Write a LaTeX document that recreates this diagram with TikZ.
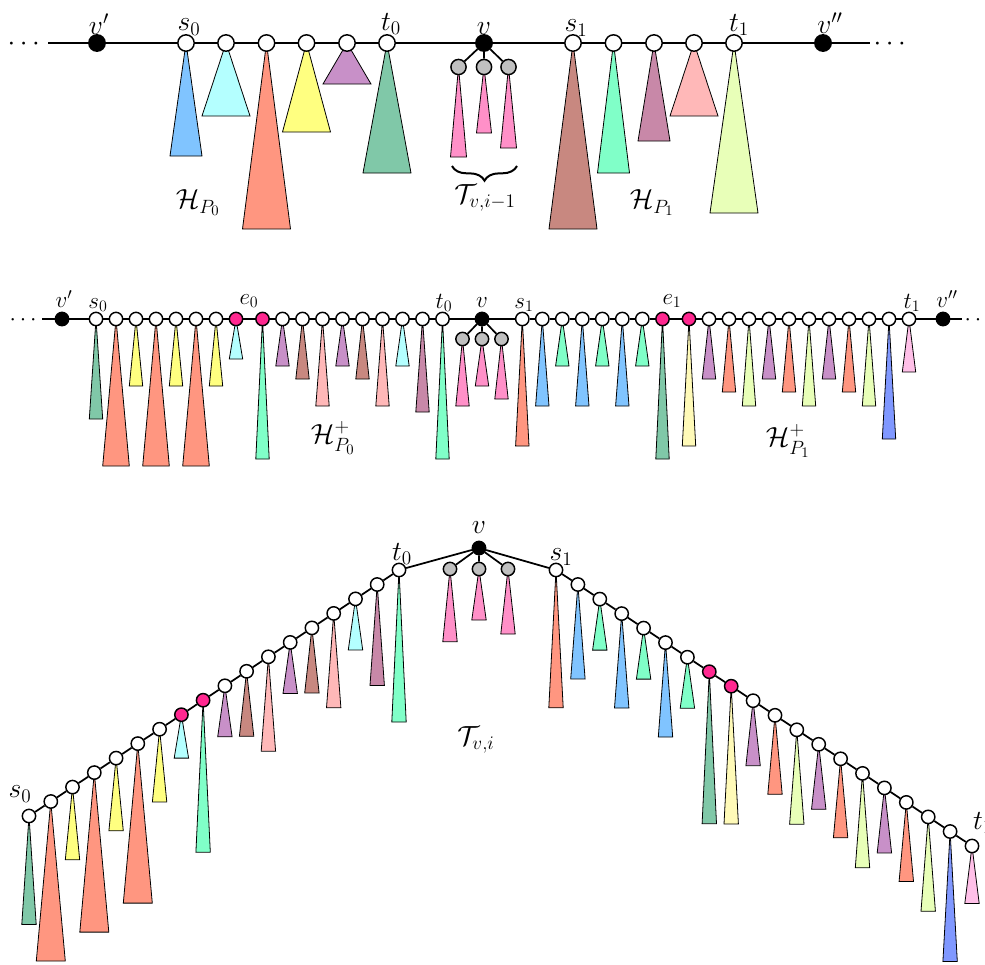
\documentclass[tikz,border=0pt]{standalone}
\usepackage{amsmath}
\usepackage{amssymb}
\usetikzlibrary{backgrounds, decorations.pathreplacing}

\tikzset{
  wnode/.style={circle, draw, fill=white, line width=1.1pt, inner sep=0pt, minimum size=12.3pt},
  wsmall/.style={wnode, minimum size=10pt},
  bnode/.style={wnode, fill=black},
  bsmall/.style={wsmall, fill=black},
  gnode/.style={wnode, minimum size=11.4pt, fill={rgb, 255:red, 192; green, 192; blue, 192}},
  gsmall/.style={wsmall, fill={rgb, 255:red, 192; green, 192; blue, 192}},
  mnode/.style={wsmall, fill={rgb, 255:red, 255; green, 40; blue, 144}},
  edge/.style={line width=1.3pt},
  tri/.style={draw, line width=0.6pt},
  brc/.style={decorate, decoration={brace, mirror, amplitude=11pt}, line width=1.5pt},
  lbl/.style={font=\fontsize{21}{25}\selectfont, inner sep=0pt},
  slbl/.style={font=\fontsize{17}{20}\selectfont, inner sep=0pt},
  hlbl/.style={font=\fontsize{22}{26}\selectfont, inner sep=0pt},
  cblue/.style={fill={rgb, 255:red, 128; green, 196; blue, 255}},
  ccyan/.style={fill={rgb, 255:red, 180; green, 255; blue, 255}},
  csalmon/.style={fill={rgb, 255:red, 255; green, 150; blue, 128}},
  cyellow/.style={fill={rgb, 255:red, 255; green, 255; blue, 128}},
  cpurple/.style={fill={rgb, 255:red, 200; green, 144; blue, 200}},
  cteal/.style={fill={rgb, 255:red, 128; green, 200; blue, 168}},
  cpink/.style={fill={rgb, 255:red, 255; green, 144; blue, 200}},
  cbrown/.style={fill={rgb, 255:red, 200; green, 136; blue, 128}},
  cmint/.style={fill={rgb, 255:red, 128; green, 255; blue, 200}},
  cmauve/.style={fill={rgb, 255:red, 200; green, 136; blue, 168}},
  clpink/.style={fill={rgb, 255:red, 255; green, 184; blue, 184}},
  clime/.style={fill={rgb, 255:red, 232; green, 255; blue, 184}},
  clyellow/.style={fill={rgb, 255:red, 255; green, 250; blue, 184}},
  cviolet/.style={fill={rgb, 255:red, 128; green, 152; blue, 255}},
  clpink2/.style={fill={rgb, 255:red, 255; green, 192; blue, 232}},
}

\begin{document}
\begin{tikzpicture}[x=0.75pt,y=0.75pt,yscale=-1,xscale=1]
    \useasboundingbox (0,0) rectangle (985,964);

    %%%%%%%% Row 1: H_{P_0}, T_{v,i-1}, H_{P_1}
    %Shape: Circle
    \node[bnode] (tvp) at (97,43) {};
    \node[wnode] (ta1) at (186,43) {};
    \node[wnode] (ta2) at (226,43) {};
    \node[wnode] (ta3) at (266.5,43) {};
    \node[wnode] (ta4) at (306.5,43) {};
    \node[wnode] (ta5) at (347,43) {};
    \node[wnode] (ta6) at (387,43) {};
    \node[bnode] (tv) at (484,43) {};
    \node[gnode] (tc1) at (458.5,67) {};
    \node[gnode] (tc2) at (484,67) {};
    \node[gnode] (tc3) at (508.5,67) {};
    \node[wnode] (tb1) at (573,43) {};
    \node[wnode] (tb2) at (613.5,43) {};
    \node[wnode] (tb3) at (654,43) {};
    \node[wnode] (tb4) at (694,43) {};
    \node[wnode] (tb5) at (734,43) {};
    \node[bnode] (tvpp) at (823,43) {};
    \coordinate (tle) at (48,43);
    \coordinate (tre) at (870,43);

    \begin{pgfonlayer}{background}
    %Straight Lines
    \draw[edge] (tle) -- (tvp) -- (ta1) -- (ta2) -- (ta3) -- (ta4) -- (ta5) -- (ta6) -- (tv)
        -- (tb1) -- (tb2) -- (tb3) -- (tb4) -- (tb5) -- (tvpp) -- (tre);
    \draw[edge] (tv) -- (tc1) (tv) -- (tc2) (tv) -- (tc3);
    %Shape: Triangle
    \draw[tri, cblue] (ta1.center) -- ++(-16,113) -- ++(32,0) -- cycle;
    \draw[tri, ccyan] (ta2.center) -- ++(-24,73) -- ++(48,0) -- cycle;
    \draw[tri, csalmon] (ta3.center) -- ++(-24,186) -- ++(48,0) -- cycle;
    \draw[tri, cyellow] (ta4.center) -- ++(-24,89) -- ++(48,0) -- cycle;
    \draw[tri, cpurple] (ta5.center) -- ++(-24,41) -- ++(48,0) -- cycle;
    \draw[tri, cteal] (ta6.center) -- ++(-24,130) -- ++(48,0) -- cycle;
    \draw[tri, cpink] (tc1.center) -- ++(-8,90) -- ++(16,0) -- cycle;
    \draw[tri, cpink] (tc2.center) -- ++(-7.5,66) -- ++(15,0) -- cycle;
    \draw[tri, cpink] (tc3.center) -- ++(-8,81) -- ++(16,0) -- cycle;
    \draw[tri, cbrown] (tb1.center) -- ++(-24,186) -- ++(48,0) -- cycle;
    \draw[tri, cmint] (tb2.center) -- ++(-16,130) -- ++(32,0) -- cycle;
    \draw[tri, cmauve] (tb3.center) -- ++(-16,98) -- ++(32,0) -- cycle;
    \draw[tri, clpink] (tb4.center) -- ++(-24,73) -- ++(48,0) -- cycle;
    \draw[tri, clime] (tb5.center) -- ++(-24,170) -- ++(48,0) -- cycle;
    \end{pgfonlayer}

    %Curly Brace
    \draw[brc] (452,166) -- (517,166);

    % Text Node
    \node[lbl, anchor=base] (tdl) at (26,50) {$\cdots$};
    \node[lbl, anchor=base] (tdr) at (892,50) {$\cdots$};
    \node[lbl] (ltvp) at (99,24) {$v'$};
    \node[lbl] (lts0) at (189,27) {$s_0$};
    \node[lbl] (ltt0) at (391,24) {$t_0$};
    \node[lbl] (ltv) at (484,29) {$v$};
    \node[lbl] (lts1) at (576,28) {$s_1$};
    \node[lbl] (ltt1) at (739,25) {$t_1$};
    \node[lbl] (ltvpp) at (830,23) {$v''$};
    \node[hlbl] (lth0) at (198,203) {$\mathcal{H}_{P_0}$};
    \node[hlbl] (ltT) at (485,198) {$\mathcal{T}_{v,i-1}$};
    \node[hlbl] (lth1) at (652,203) {$\mathcal{H}_{P_1}$};

    %%%%%%%% Row 2: H^+_{P_0}, H^+_{P_1}
    %Shape: Circle
    \node[bsmall] (mvp) at (62,319) {};
    \node[wsmall] (ma1) at (96,319) {};
    \node[wsmall] (ma2) at (116,319) {};
    \node[wsmall] (ma3) at (136,319) {};
    \node[wsmall] (ma4) at (156,319) {};
    \node[wsmall] (ma5) at (176,319) {};
    \node[wsmall] (ma6) at (196,319) {};
    \node[wsmall] (ma7) at (216,319) {};
    \node[mnode] (ma8) at (236,319) {};
    \node[mnode] (ma9) at (262.5,319) {};
    \node[wsmall] (ma10) at (282.5,319) {};
    \node[wsmall] (ma11) at (302.5,319) {};
    \node[wsmall] (ma12) at (322.5,319) {};
    \node[wsmall] (ma13) at (342.5,319) {};
    \node[wsmall] (ma14) at (362.5,319) {};
    \node[wsmall] (ma15) at (382.5,319) {};
    \node[wsmall] (ma16) at (402.5,319) {};
    \node[wsmall] (ma17) at (422.5,319) {};
    \node[wsmall] (ma18) at (442.5,319) {};
    \node[bsmall] (mv) at (482,319) {};
    \node[gsmall] (mc1) at (462.5,339) {};
    \node[gsmall] (mc2) at (482,339) {};
    \node[gsmall] (mc3) at (501.5,339) {};
    \node[wsmall] (mb1) at (522.3,319) {};
    \node[wsmall] (mb2) at (542.3,319) {};
    \node[wsmall] (mb3) at (562.3,319) {};
    \node[wsmall] (mb4) at (582.3,319) {};
    \node[wsmall] (mb5) at (602.3,319) {};
    \node[wsmall] (mb6) at (622.3,319) {};
    \node[wsmall] (mb7) at (642.3,319) {};
    \node[mnode] (mb8) at (662.5,319) {};
    \node[mnode] (mb9) at (689,319) {};
    \node[wsmall] (mb10) at (709,319) {};
    \node[wsmall] (mb11) at (729,319) {};
    \node[wsmall] (mb12) at (749,319) {};
    \node[wsmall] (mb13) at (769,319) {};
    \node[wsmall] (mb14) at (789,319) {};
    \node[wsmall] (mb15) at (809,319) {};
    \node[wsmall] (mb16) at (829,319) {};
    \node[wsmall] (mb17) at (849,319) {};
    \node[wsmall] (mb18) at (869,319) {};
    \node[wsmall] (mb19) at (889,319) {};
    \node[wsmall] (mb20) at (909,319) {};
    \node[bsmall] (mvpp) at (943,319) {};
    \coordinate (mle) at (42,319);
    \coordinate (mre) at (962,319);

    \begin{pgfonlayer}{background}
    %Straight Lines
    \draw[edge] (mle) -- (mvp) -- (ma1) -- (ma2) -- (ma3) -- (ma4) -- (ma5) -- (ma6) -- (ma7) -- (ma8)
        -- (ma9) -- (ma10) -- (ma11) -- (ma12) -- (ma13) -- (ma14) -- (ma15) -- (ma16) -- (ma17)
        -- (ma18) -- (mv) -- (mb1) -- (mb2) -- (mb3) -- (mb4) -- (mb5) -- (mb6) -- (mb7) -- (mb8)
        -- (mb9) -- (mb10) -- (mb11) -- (mb12) -- (mb13) -- (mb14) -- (mb15) -- (mb16) -- (mb17)
        -- (mb18) -- (mb19) -- (mb20) -- (mvpp) -- (mre);
    \draw[edge] (mv) -- (mc1) (mv) -- (mc2) (mv) -- (mc3);
    %Shape: Triangle
    \draw[tri, cteal] (ma1.center) -- ++(-6.7,100) -- ++(13.4,0) -- cycle;
    \draw[tri, csalmon] (ma2.center) -- ++(-13.3,147) -- ++(26.6,0) -- cycle;
    \draw[tri, cyellow] (ma3.center) -- ++(-6.7,67) -- ++(13.4,0) -- cycle;
    \draw[tri, csalmon] (ma4.center) -- ++(-13.3,147) -- ++(26.6,0) -- cycle;
    \draw[tri, cyellow] (ma5.center) -- ++(-6.7,67) -- ++(13.4,0) -- cycle;
    \draw[tri, csalmon] (ma6.center) -- ++(-13.3,147) -- ++(26.6,0) -- cycle;
    \draw[tri, cyellow] (ma7.center) -- ++(-6.7,67) -- ++(13.4,0) -- cycle;
    \draw[tri, ccyan] (ma8.center) -- ++(-6.7,40) -- ++(13.4,0) -- cycle;
    \draw[tri, cmint] (ma9.center) -- ++(-6.7,140) -- ++(13.4,0) -- cycle;
    \draw[tri, cpurple] (ma10.center) -- ++(-6.7,47) -- ++(13.4,0) -- cycle;
    \draw[tri, cbrown] (ma11.center) -- ++(-6.7,60) -- ++(13.4,0) -- cycle;
    \draw[tri, clpink] (ma12.center) -- ++(-6.7,87) -- ++(13.4,0) -- cycle;
    \draw[tri, cpurple] (ma13.center) -- ++(-6.7,47) -- ++(13.4,0) -- cycle;
    \draw[tri, cbrown] (ma14.center) -- ++(-6.7,60) -- ++(13.4,0) -- cycle;
    \draw[tri, clpink] (ma15.center) -- ++(-6.7,87) -- ++(13.4,0) -- cycle;
    \draw[tri, ccyan] (ma16.center) -- ++(-6.7,47) -- ++(13.4,0) -- cycle;
    \draw[tri, cmauve] (ma17.center) -- ++(-6.7,93) -- ++(13.4,0) -- cycle;
    \draw[tri, cmint] (ma18.center) -- ++(-6.7,140) -- ++(13.4,0) -- cycle;
    \draw[tri, cpink] (mc1.center) -- ++(-6.7,67) -- ++(13.4,0) -- cycle;
    \draw[tri, cpink] (mc2.center) -- ++(-6.7,47) -- ++(13.4,0) -- cycle;
    \draw[tri, cpink] (mc3.center) -- ++(-6.7,60) -- ++(13.4,0) -- cycle;
    \draw[tri, csalmon] (mb1.center) -- ++(-6.7,127) -- ++(13.4,0) -- cycle;
    \draw[tri, cblue] (mb2.center) -- ++(-6.7,87) -- ++(13.4,0) -- cycle;
    \draw[tri, cmint] (mb3.center) -- ++(-6.7,47) -- ++(13.4,0) -- cycle;
    \draw[tri, cblue] (mb4.center) -- ++(-6.7,87) -- ++(13.4,0) -- cycle;
    \draw[tri, cmint] (mb5.center) -- ++(-6.7,47) -- ++(13.4,0) -- cycle;
    \draw[tri, cblue] (mb6.center) -- ++(-6.7,87) -- ++(13.4,0) -- cycle;
    \draw[tri, cmint] (mb7.center) -- ++(-6.7,47) -- ++(13.4,0) -- cycle;
    \draw[tri, cteal] (mb8.center) -- ++(-6.7,140) -- ++(13.4,0) -- cycle;
    \draw[tri, clyellow] (mb9.center) -- ++(-6.7,127) -- ++(13.4,0) -- cycle;
    \draw[tri, cpurple] (mb10.center) -- ++(-6.7,60) -- ++(13.4,0) -- cycle;
    \draw[tri, csalmon] (mb11.center) -- ++(-6.7,73) -- ++(13.4,0) -- cycle;
    \draw[tri, clime] (mb12.center) -- ++(-6.7,87) -- ++(13.4,0) -- cycle;
    \draw[tri, cpurple] (mb13.center) -- ++(-6.7,60) -- ++(13.4,0) -- cycle;
    \draw[tri, csalmon] (mb14.center) -- ++(-6.7,73) -- ++(13.4,0) -- cycle;
    \draw[tri, clime] (mb15.center) -- ++(-6.7,87) -- ++(13.4,0) -- cycle;
    \draw[tri, cpurple] (mb16.center) -- ++(-6.7,60) -- ++(13.4,0) -- cycle;
    \draw[tri, csalmon] (mb17.center) -- ++(-6.7,73) -- ++(13.4,0) -- cycle;
    \draw[tri, clime] (mb18.center) -- ++(-6.7,87) -- ++(13.4,0) -- cycle;
    \draw[tri, cviolet] (mb19.center) -- ++(-6.7,120) -- ++(13.4,0) -- cycle;
    \draw[tri, clpink2] (mb20.center) -- ++(-6.7,53) -- ++(13.4,0) -- cycle;
    \end{pgfonlayer}

    % Text Node
    \node[slbl, anchor=base] (mdl) at (25,325) {$\cdots$};
    \node[slbl, anchor=base] (mdr) at (980,325) {$\cdots$};
    \node[slbl] (lmvp) at (64,299) {$v'$};
    \node[slbl] (lms0) at (98,305) {$s_0$};
    \node[slbl] (lme0) at (249,301) {$e_0$};
    \node[slbl] (lmt0) at (444,303) {$t_0$};
    \node[slbl] (lmv) at (482,303) {$v$};
    \node[slbl] (lms1) at (524,305) {$s_1$};
    \node[slbl] (lme1) at (672,301) {$e_1$};
    \node[slbl] (lmt1) at (912,303) {$t_1$};
    \node[slbl] (lmvpp) at (947,299) {$v''$};
    \node[hlbl] (lmh0) at (333,438) {$\mathcal{H}^+_{P_0}$};
    \node[hlbl] (lmh1) at (788,441) {$\mathcal{H}^+_{P_1}$};

    %%%%%%%% Row 3: T_{v,i}
    %Shape: Circle
    \node[wsmall] (ba1) at (29,816) {};
    \node[wsmall] (ba2) at (50.8,801.5) {};
    \node[wsmall] (ba3) at (72.5,787.1) {};
    \node[wsmall] (ba4) at (94.3,772.6) {};
    \node[wsmall] (ba5) at (116.1,758.1) {};
    \node[wsmall] (ba6) at (137.8,743.6) {};
    \node[wsmall] (ba7) at (159.6,729.2) {};
    \node[mnode] (ba8) at (181.4,714.7) {};
    \node[mnode] (ba9) at (203.1,700.2) {};
    \node[wsmall] (ba10) at (224.9,685.8) {};
    \node[wsmall] (ba11) at (246.6,671.3) {};
    \node[wsmall] (ba12) at (268.4,656.8) {};
    \node[wsmall] (ba13) at (290.2,642.4) {};
    \node[wsmall] (ba14) at (311.9,627.9) {};
    \node[wsmall] (ba15) at (333.7,613.4) {};
    \node[wsmall] (ba16) at (355.5,598.9) {};
    \node[wsmall] (ba17) at (377.2,584.5) {};
    \node[wsmall] (ba18) at (399,570) {};
    \node[bsmall] (bv) at (479,548) {};
    \node[gsmall] (bc1) at (450,569) {};
    \node[gsmall] (bc2) at (479,569) {};
    \node[gsmall] (bc3) at (508,569) {};
    \node[wsmall] (bb1) at (556,570) {};
    \node[wsmall] (bb2) at (577.9,584.5) {};
    \node[wsmall] (bb3) at (599.8,599.1) {};
    \node[wsmall] (bb4) at (621.7,613.6) {};
    \node[wsmall] (bb5) at (643.6,628.1) {};
    \node[wsmall] (bb6) at (665.5,642.6) {};
    \node[wsmall] (bb7) at (687.4,657.2) {};
    \node[mnode] (bb8) at (709.3,671.7) {};
    \node[mnode] (bb9) at (731.2,686.2) {};
    \node[wsmall] (bb10) at (753.1,700.7) {};
    \node[wsmall] (bb11) at (775,715.3) {};
    \node[wsmall] (bb12) at (796.8,729.8) {};
    \node[wsmall] (bb13) at (818.7,744.3) {};
    \node[wsmall] (bb14) at (840.6,758.8) {};
    \node[wsmall] (bb15) at (862.5,773.4) {};
    \node[wsmall] (bb16) at (884.4,787.9) {};
    \node[wsmall] (bb17) at (906.3,802.4) {};
    \node[wsmall] (bb18) at (928.2,816.9) {};
    \node[wsmall] (bb19) at (950.1,831.5) {};
    \node[wsmall] (bb20) at (972,846) {};

    \begin{pgfonlayer}{background}
    %Straight Lines
    \draw[edge] (ba1) -- (ba2) -- (ba3) -- (ba4) -- (ba5) -- (ba6) -- (ba7) -- (ba8) -- (ba9)
        -- (ba10) -- (ba11) -- (ba12) -- (ba13) -- (ba14) -- (ba15) -- (ba16) -- (ba17) -- (ba18)
        -- (bv) -- (bb1) -- (bb2) -- (bb3) -- (bb4) -- (bb5) -- (bb6) -- (bb7) -- (bb8) -- (bb9)
        -- (bb10) -- (bb11) -- (bb12) -- (bb13) -- (bb14) -- (bb15) -- (bb16) -- (bb17) -- (bb18)
        -- (bb19) -- (bb20);
    \draw[edge] (bv) -- (bc1) (bv) -- (bc2) (bv) -- (bc3);
    %Shape: Triangle
    \draw[tri, cteal] (ba1.center) -- ++(-7.2,108.5) -- ++(14.4,0) -- cycle;
    \draw[tri, csalmon] (ba2.center) -- ++(-14.5,159.5) -- ++(29,0) -- cycle;
    \draw[tri, cyellow] (ba3.center) -- ++(-7.2,72.7) -- ++(14.4,0) -- cycle;
    \draw[tri, csalmon] (ba4.center) -- ++(-14.5,159.5) -- ++(29,0) -- cycle;
    \draw[tri, cyellow] (ba5.center) -- ++(-7.2,72.7) -- ++(14.4,0) -- cycle;
    \draw[tri, csalmon] (ba6.center) -- ++(-14.5,159.5) -- ++(29,0) -- cycle;
    \draw[tri, cyellow] (ba7.center) -- ++(-7.2,72.7) -- ++(14.4,0) -- cycle;
    \draw[tri, ccyan] (ba8.center) -- ++(-7.2,43.4) -- ++(14.4,0) -- cycle;
    \draw[tri, cmint] (ba9.center) -- ++(-7.2,152) -- ++(14.4,0) -- cycle;
    \draw[tri, cpurple] (ba10.center) -- ++(-7.2,51) -- ++(14.4,0) -- cycle;
    \draw[tri, cbrown] (ba11.center) -- ++(-7.2,65) -- ++(14.4,0) -- cycle;
    \draw[tri, clpink] (ba12.center) -- ++(-7.2,94.4) -- ++(14.4,0) -- cycle;
    \draw[tri, cpurple] (ba13.center) -- ++(-7.2,51) -- ++(14.4,0) -- cycle;
    \draw[tri, cbrown] (ba14.center) -- ++(-7.2,65) -- ++(14.4,0) -- cycle;
    \draw[tri, clpink] (ba15.center) -- ++(-7.2,94.4) -- ++(14.4,0) -- cycle;
    \draw[tri, ccyan] (ba16.center) -- ++(-7.2,51) -- ++(14.4,0) -- cycle;
    \draw[tri, cmauve] (ba17.center) -- ++(-7.2,101) -- ++(14.4,0) -- cycle;
    \draw[tri, cmint] (ba18.center) -- ++(-7.2,152) -- ++(14.4,0) -- cycle;
    \draw[tri, cpink] (bc1.center) -- ++(-7.2,72.7) -- ++(14.4,0) -- cycle;
    \draw[tri, cpink] (bc2.center) -- ++(-7.2,51) -- ++(14.4,0) -- cycle;
    \draw[tri, cpink] (bc3.center) -- ++(-7.2,65) -- ++(14.4,0) -- cycle;
    \draw[tri, csalmon] (bb1.center) -- ++(-7.2,137.8) -- ++(14.4,0) -- cycle;
    \draw[tri, cblue] (bb2.center) -- ++(-7.2,94.4) -- ++(14.4,0) -- cycle;
    \draw[tri, cmint] (bb3.center) -- ++(-7.2,51) -- ++(14.4,0) -- cycle;
    \draw[tri, cblue] (bb4.center) -- ++(-7.2,94.4) -- ++(14.4,0) -- cycle;
    \draw[tri, cmint] (bb5.center) -- ++(-7.2,51) -- ++(14.4,0) -- cycle;
    \draw[tri, cblue] (bb6.center) -- ++(-7.2,94.4) -- ++(14.4,0) -- cycle;
    \draw[tri, cmint] (bb7.center) -- ++(-7.2,51) -- ++(14.4,0) -- cycle;
    \draw[tri, cteal] (bb8.center) -- ++(-7.2,152) -- ++(14.4,0) -- cycle;
    \draw[tri, clyellow] (bb9.center) -- ++(-7.2,137.8) -- ++(14.4,0) -- cycle;
    \draw[tri, cpurple] (bb10.center) -- ++(-7.2,65) -- ++(14.4,0) -- cycle;
    \draw[tri, csalmon] (bb11.center) -- ++(-7.2,79) -- ++(14.4,0) -- cycle;
    \draw[tri, clime] (bb12.center) -- ++(-7.2,94.4) -- ++(14.4,0) -- cycle;
    \draw[tri, cpurple] (bb13.center) -- ++(-7.2,65) -- ++(14.4,0) -- cycle;
    \draw[tri, csalmon] (bb14.center) -- ++(-7.2,79) -- ++(14.4,0) -- cycle;
    \draw[tri, clime] (bb15.center) -- ++(-7.2,94.4) -- ++(14.4,0) -- cycle;
    \draw[tri, cpurple] (bb16.center) -- ++(-7.2,65) -- ++(14.4,0) -- cycle;
    \draw[tri, csalmon] (bb17.center) -- ++(-7.2,79) -- ++(14.4,0) -- cycle;
    \draw[tri, clime] (bb18.center) -- ++(-7.2,94.4) -- ++(14.4,0) -- cycle;
    \draw[tri, cviolet] (bb19.center) -- ++(-7.2,130) -- ++(14.4,0) -- cycle;
    \draw[tri, clpink2] (bb20.center) -- ++(-7.2,57.5) -- ++(14.4,0) -- cycle;
    \end{pgfonlayer}

    % Text Node
    \node[lbl] (lbv) at (479,528) {$v$};
    \node[lbl] (lbt0) at (402,554) {$t_0$};
    \node[lbl] (lbs1) at (561,557) {$s_1$};
    \node[lbl] (lbs0) at (20,794) {$s_0$};
    \node[lbl] (lbt1) at (983,823) {$t_1$};
    \node[hlbl] (lbT) at (476,740) {$\mathcal{T}_{v,i}$};

\end{tikzpicture}
\end{document}
